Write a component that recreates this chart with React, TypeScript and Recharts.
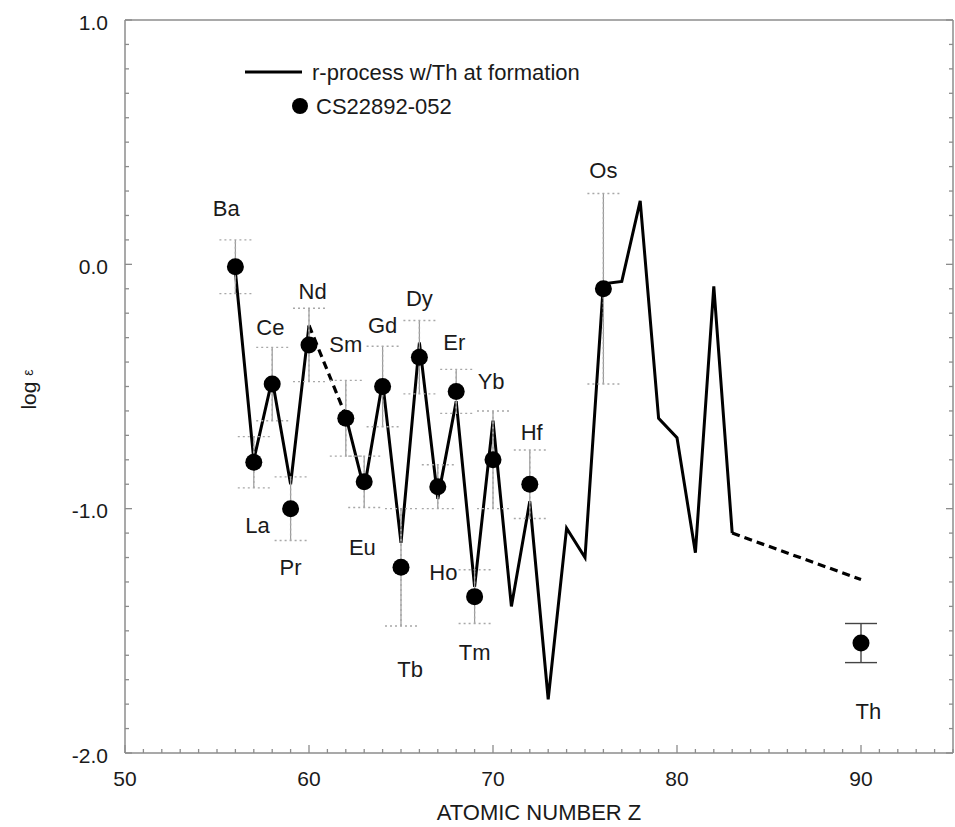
import React from "react";
import {
  ComposedChart,
  ErrorBar,
  Legend,
  Line,
  Scatter,
  XAxis,
  YAxis,
} from "recharts";

const FONT = '"Liberation Sans", Arial, Helvetica, sans-serif';
const FRAME = "#8c8c8c";
const INK = "#1a1a1a";

// r-process curve (solid). Z = 61 (Pm) has no value, so the line breaks there
const modelZ = [
  56, 57, 58, 59, 60, 61, 62, 63, 64, 65, 66, 67, 68, 69, 70, 71, 72, 73, 74,
  75, 76, 77, 78, 79, 80, 81, 82, 83,
];
const modelLogEps = [
  -0.03, -0.8, -0.47, -0.9, -0.25, null, -0.62, -0.92, -0.48, -1.14, -0.32,
  -0.96, -0.56, -1.32, -0.64, -1.4, -0.97, -1.78, -1.08, -1.2, -0.08, -0.07,
  0.26, -0.63, -0.71, -1.18, -0.09, -1.1,
];

// dashed bits of the curve
const dashPmZ = [60, 62];
const dashPmLogEps = [-0.25, -0.62];
const dashThZ = [83, 90];
const dashThLogEps = [-1.1, -1.29];

// CS22892-052 observed abundances
const obsZ = [56, 57, 58, 59, 60, 62, 63, 64, 65, 66, 67, 68, 69, 70, 72, 76];
const obsLogEps = [
  -0.01, -0.81, -0.49, -1.0, -0.33, -0.63, -0.89, -0.5, -1.24, -0.38, -0.91,
  -0.52, -1.36, -0.8, -0.9, -0.1,
];
const obsErr = [
  0.11, 0.105, 0.15, 0.13, 0.15, 0.155, 0.105, 0.165, 0.24, 0.15, 0.09, 0.09,
  0.11, 0.2, 0.14, 0.39,
];
const thZ = [90];
const thLogEps = [-1.55];
const thErr = [0.08];

// element name annotations
const labelNames = [
  "Ba", "La", "Ce", "Pr", "Nd", "Sm", "Eu", "Gd", "Tb", "Dy", "Ho", "Er",
  "Tm", "Yb", "Hf", "Os", "Th",
];
const labelZ = [
  55.5, 57.2, 57.9, 59.0, 60.2, 62.0, 62.9, 64.0, 65.5, 66.0, 67.3, 67.9,
  69.0, 69.9, 72.1, 76.0, 90.4,
];
const labelLogEps = [
  0.23, -1.07, -0.26, -1.24, -0.11, -0.33, -1.16, -0.25, -1.66, -0.14, -1.26,
  -0.32, -1.59, -0.48, -0.69, 0.385, -1.83,
];

const xMajor = [50, 60, 70, 80, 90];
const xTicks = Array.from({ length: 46 }, (_, i) => 50 + i);
const yMajor = [1, 0, -1, -2];
const yMajorLabels = ["1.0", "0.0", "-1.0", "-2.0"];
const yTicks = Array.from({ length: 31 }, (_, i) => Math.round(10 - i) / 10);

const modelData = modelZ.map((z, i) => ({ z, v: modelLogEps[i] }));
const dashPmData = dashPmZ.map((z, i) => ({ z, v: dashPmLogEps[i] }));
const dashThData = dashThZ.map((z, i) => ({ z, v: dashThLogEps[i] }));
const obsData = obsZ.map((z, i) => ({ z, v: obsLogEps[i], err: obsErr[i] }));
const thData = thZ.map((z, i) => ({ z, v: thLogEps[i], err: thErr[i] }));
const labelData = labelZ.map((z, i) => ({ z, v: labelLogEps[i], name: labelNames[i] }));

const yLabelOf = (v: number) => {
  const idx = yMajor.findIndex((m) => Math.abs(m - v) < 1e-6);
  return idx >= 0 ? yMajorLabels[idx] : null;
};

const BottomTick = (props: any) => {
  const { x, y, payload } = props;
  const major = xMajor.includes(payload.value);
  return (
    <g>
      <line x1={x} x2={x} y1={y} y2={y - (major ? 8 : 4)} stroke={FRAME} strokeWidth={1.3} />
      {major && (
        <text x={x} y={y + 25} textAnchor="middle" dominantBaseline="central" fontSize={21} fill={INK} fontFamily={FONT}>
          {payload.value}
        </text>
      )}
    </g>
  );
};

const TopTick = (props: any) => {
  const { x, y, payload } = props;
  const major = xMajor.includes(payload.value);
  return <line x1={x} x2={x} y1={y} y2={y + (major ? 8 : 4)} stroke={FRAME} strokeWidth={1.3} />;
};

const LeftTick = (props: any) => {
  const { x, y, payload } = props;
  const lab = yLabelOf(payload.value);
  return (
    <g>
      <line x1={x} x2={x + (lab ? 7 : 4)} y1={y} y2={y} stroke={FRAME} strokeWidth={1.3} />
      {lab && (
        <text x={x - 17} y={y + 2} textAnchor="end" dominantBaseline="central" fontSize={21} fill={INK} fontFamily={FONT}>
          {lab}
        </text>
      )}
    </g>
  );
};

const RightTick = (props: any) => {
  const { x, y, payload } = props;
  const lab = yLabelOf(payload.value);
  return <line x1={x} x2={x - (lab ? 7 : 4)} y1={y} y2={y} stroke={FRAME} strokeWidth={1.3} />;
};

const XTitle = (props: any) => {
  const vb = props.viewBox;
  return (
    <text x={vb.x + vb.width / 2} y={812} textAnchor="middle" dominantBaseline="central" fontSize={22} fill={INK} fontFamily={FONT}>
      ATOMIC NUMBER Z
    </text>
  );
};

const YTitle = (props: any) => {
  const vb = props.viewBox;
  const cy = vb.y + vb.height / 2 + 3;
  return (
    <text transform={`translate(28, ${cy}) rotate(-90)`} textAnchor="middle" dominantBaseline="central" fontSize={21} fill={INK} fontFamily={FONT}>
      log <tspan fontSize={14}>ε</tspan>
    </text>
  );
};

const DotShape = (props: any) => <circle cx={props.cx} cy={props.cy} r={8.5} fill="#000" />;

const NameShape = (props: any) => (
  <text x={props.cx} y={props.cy} textAnchor="middle" dominantBaseline="central" fontSize={22} fill={INK} fontFamily={FONT}>
    {props.payload.name}
  </text>
);

const LegendBox = () => (
  <svg width={400} height={70} style={{ display: "block" }}>
    <line x1={0} x2={57} y1={17} y2={17} stroke="#000" strokeWidth={3} />
    <text x={67} y={17} dominantBaseline="central" fontSize={22} fill={INK} fontFamily={FONT}>
      r-process w/Th at formation
    </text>
    <circle cx={55} cy={51} r={8} fill="#000" />
    <text x={71} y={51} dominantBaseline="central" fontSize={22} fill={INK} fontFamily={FONT}>
      CS22892-052
    </text>
  </svg>
);

// axes need a size > 0 or recharts skips drawing them, so each gets 1px
const App = () => {
  return (
    <div style={{ position: "absolute", left: 0, top: 0, background: "#fff" }}>
      <ComposedChart width={955} height={827} margin={{ top: 19, right: 1, bottom: 73, left: 124 }}>
        <XAxis
          dataKey="z"
          type="number"
          domain={[50, 95]}
          ticks={xTicks}
          interval={0}
          height={1}
          tickSize={0}
          tickMargin={0}
          tickLine={false}
          axisLine={{ stroke: FRAME, strokeWidth: 1.5 }}
          tick={<BottomTick />}
          allowDataOverflow
          label={<XTitle />}
        />
        <XAxis
          xAxisId="top"
          orientation="top"
          type="number"
          domain={[50, 95]}
          ticks={xTicks}
          interval={0}
          height={1}
          tickSize={0}
          tickMargin={0}
          tickLine={false}
          axisLine={{ stroke: FRAME, strokeWidth: 1.5 }}
          tick={<TopTick />}
          allowDataOverflow
        />
        <YAxis
          type="number"
          domain={[-2, 1]}
          ticks={yTicks}
          interval={0}
          width={1}
          tickSize={0}
          tickMargin={0}
          tickLine={false}
          axisLine={{ stroke: FRAME, strokeWidth: 1.5 }}
          tick={<LeftTick />}
          allowDataOverflow
          label={<YTitle />}
        />
        <YAxis
          yAxisId="right"
          orientation="right"
          type="number"
          domain={[-2, 1]}
          ticks={yTicks}
          interval={0}
          width={1}
          tickSize={0}
          tickMargin={0}
          tickLine={false}
          axisLine={{ stroke: FRAME, strokeWidth: 1.5 }}
          tick={<RightTick />}
          allowDataOverflow
        />

        <Legend
          layout="vertical"
          align="center"
          verticalAlign="middle"
          content={<LegendBox />}
          wrapperStyle={{ top: 55, left: 245, width: 400, height: 70 }}
        />

        <Line data={modelData} dataKey="v" stroke="#000" strokeWidth={3} dot={false} activeDot={false} connectNulls={false} isAnimationActive={false} legendType="none" />
        <Line data={dashPmData} dataKey="v" stroke="#000" strokeWidth={3.2} strokeDasharray="8 5" dot={false} activeDot={false} isAnimationActive={false} legendType="none" />
        <Line data={dashThData} dataKey="v" stroke="#000" strokeWidth={3.2} strokeDasharray="8 5" dot={false} activeDot={false} isAnimationActive={false} legendType="none" />

        <Scatter data={obsData} dataKey="v" shape={<DotShape />} isAnimationActive={false} legendType="none">
          <ErrorBar dataKey="err" direction="y" width={0} stroke="#9a9a9a" strokeWidth={1.2} />
          <ErrorBar dataKey="err" direction="y" width={16} stroke="#a8a8a8" strokeWidth={1.4} strokeDasharray="2 3" />
        </Scatter>
        <Scatter data={thData} dataKey="v" shape={<DotShape />} isAnimationActive={false} legendType="none">
          <ErrorBar dataKey="err" direction="y" width={16} stroke="#444" strokeWidth={1.4} />
        </Scatter>
        <Scatter data={labelData} dataKey="v" shape={<NameShape />} isAnimationActive={false} legendType="none" />
      </ComposedChart>
    </div>
  );
};

export default App;
